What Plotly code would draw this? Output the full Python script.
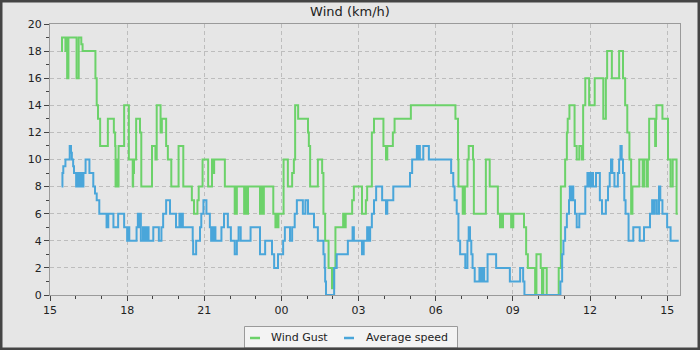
import pandas as pd
import plotly.graph_objects as go

# ---------------- data (minutes after 15:00 on day 1, km/h) ----------------
gust_minutes = [26, 28, 36, 37, 40, 43, 62, 67, 73, 76, 106, 109, 112, 117, 135, 149, 152,
                153, 154, 155, 156, 157, 158, 159, 160, 173, 184, 193, 194, 196, 201, 210, 213,
                238, 246, 249, 258, 261, 271, 275, 283, 300, 311, 331, 336, 344, 347, 356, 369,
                378, 381, 383, 408,
                431, 432, 433, 434, 435, 436,
                453, 454, 455, 456, 457, 458, 459, 460, 461, 462,
                490, 491, 492, 493, 494, 495, 496, 497, 498, 499,
                521, 526, 527, 528, 529, 530, 531, 532, 533, 534,
                545, 555, 565, 569, 572, 579, 602, 604, 607, 625, 635, 638, 642, 650,
                658, 659, 660, 661, 662, 663, 666, 684, 685, 686, 687, 688, 689, 690,
                705, 709, 728, 737, 740, 751, 756, 778, 784, 787, 800, 804, 842, 946, 952, 953,
                963, 964, 965, 966, 967, 968, 969, 974, 977, 987, 989, 1017, 1026, 1045,
                1050, 1051, 1052, 1053, 1054, 1055, 1056, 1057,
                1076, 1077, 1078, 1079, 1080, 1081, 1082,
                1106, 1111, 1115, 1132, 1133, 1134, 1135, 1145, 1148, 1151, 1159, 1187, 1192,
                1202, 1206, 1208, 1212, 1224, 1229, 1235, 1241, 1244, 1249, 1258, 1271, 1291,
                1297, 1300, 1311, 1328, 1337, 1342, 1347, 1352, 1356, 1359, 1375, 1383, 1386,
                1392, 1395, 1398, 1412, 1414, 1415, 1429, 1442, 1448, 1453, 1462, 1465]
gust_kmh = [18, 19, 18, 19, 16, 19, 16, 19, 18.5, 18, 16, 14, 13, 11, 13, 12, 11,
            8, 10, 8, 10, 8, 10, 8, 11, 14, 10, 8, 9, 10, 13, 12, 8,
            11, 10, 14, 12, 13, 11, 10, 8, 11, 8, 7, 6, 7, 8, 10, 8,
            10, 9, 10, 8,
            6, 8, 6, 8, 6, 8,
            6, 8, 6, 8, 6, 8, 6, 8, 6, 8,
            6, 8, 6, 8, 6, 8, 6, 8, 6, 8,
            6, 5, 6, 5, 6, 5, 6, 5, 6, 6,
            10, 8, 9, 10, 14, 13, 12, 11, 8, 10, 9, 6, 4, 2,
            0.5, 2, 0.5, 2, 0.5, 2, 5, 6, 5, 6, 5, 6, 5, 6,
            7, 8, 6, 7, 8, 12, 13, 11, 10, 11, 12, 13, 14, 13, 10, 8,
            6, 8, 6, 8, 6, 8, 8, 10, 11, 10, 6, 10, 8, 6,
            5, 6, 5, 6, 5, 6, 5, 6,
            5, 6, 5, 6, 5, 6, 6,
            5, 3, 2, 0, 2, 0, 3, 2, 0, 2, 0, 2, 8,
            10, 12, 13, 14, 11, 10, 11, 10, 14, 16, 14, 16, 13,
            16, 18, 16, 18, 16, 14, 12, 10, 6, 8, 10, 8, 10,
            8, 10, 13, 11, 13, 14, 13, 10, 8, 10, 6, 6]

avg_minutes = [27, 29, 31, 36, 46, 49, 51, 54, 56, 61, 64, 68, 72, 74, 78, 83, 92, 101, 105,
               109, 115, 132, 136, 148, 159, 173, 180, 182, 185, 202, 205, 207, 208, 212, 217,
               219, 222, 225, 228, 230, 241, 254, 260, 264, 271, 280, 294, 302, 303, 306, 310,
               333, 334, 341, 350, 353, 358, 365, 373, 376, 378, 381, 383, 386, 400, 406, 415,
               422, 431, 436, 440, 445, 468, 490, 502, 518, 523, 532, 544, 548, 560, 565, 571,
               576, 590, 596, 602, 616, 625, 638, 641, 642, 644, 663, 669, 695, 706, 709, 728,
               732, 740, 744, 747, 751, 756, 761, 775, 784, 787, 801, 840, 845, 856, 857, 859,
               863, 871, 884, 936, 941, 944, 949, 953, 957, 969, 974, 977, 980, 983, 986, 991,
               1002, 1006, 1010, 1013, 1021, 1041, 1073, 1097, 1104, 1107, 1191, 1195, 1198,
               1202, 1206, 1211, 1213, 1215, 1218, 1221, 1225, 1229, 1235, 1249, 1254, 1257,
               1259, 1261, 1264, 1267, 1274, 1283, 1288, 1297, 1302, 1306, 1309, 1312, 1317,
               1325, 1328, 1331, 1334, 1337, 1340, 1343, 1350, 1361, 1376, 1386, 1400, 1405,
               1409, 1411, 1416, 1421, 1424, 1429, 1440, 1448, 1467]
avg_kmh = [8, 9, 9.5, 10, 11, 10.5, 10, 9.5, 9, 8, 9, 8, 9, 8, 9, 10, 9, 8, 7.5,
           7, 6, 5, 6, 5, 6, 5, 4, 5, 4, 5, 6, 5, 6, 4, 5,
           4, 5, 4, 5, 4, 5, 4, 5, 6, 7, 6, 5, 6, 5, 6, 5,
           4, 3, 4, 5, 6, 7, 6, 5, 4, 5, 4, 5, 4, 5, 6, 5,
           4, 3, 4, 5, 4, 5, 3, 4, 3, 2, 3, 4, 5, 4, 5, 6,
           7, 6, 7, 6, 5, 4, 3, 2, 1, 0, 2, 3, 4, 5, 4, 3,
           4, 5, 4, 5, 6, 7, 8, 7, 6, 7, 8, 9, 10, 11, 10, 11,
           10, 11, 10, 9, 8, 7, 6, 4, 3, 2, 4, 5, 4, 3, 2, 1,
           2, 1, 2, 1, 3, 2, 1, 2, 1, 0, 1, 3, 4,
           5, 6, 7, 8, 7, 8, 7, 6, 5, 6, 8, 9, 8,
           9, 8, 9, 8, 9, 7, 6, 7, 8, 9, 10, 9, 8,
           9, 10, 11, 10, 9, 7, 6, 4, 5, 4, 5, 6, 7,
           6, 7, 6, 8, 7, 6, 5, 4, 4]

x_tick_hours = ["15", "18", "21", "00", "03", "06", "09", "12", "15"]
series_names = ["Wind Gust", "Average speed"]

# ---------------- build ----------------
start = pd.Timestamp("2024-05-14 15:00")
gust_t = [start + pd.Timedelta(minutes=m) for m in gust_minutes]
avg_t = [start + pd.Timedelta(minutes=m) for m in avg_minutes]
x_end = start + pd.Timedelta(minutes=1470)
tick_vals = [start + pd.Timedelta(hours=3 * i) for i in range(len(x_tick_hours))]

GREEN = "#6cd26a"
BLUE = "#4aa6da"
FONT = "DejaVu Sans"
colors = [GREEN, BLUE]

fig = go.Figure()
fig.add_trace(go.Scatter(x=gust_t, y=gust_kmh, mode="lines", line=dict(color=GREEN, width=2, shape="hv"),
                         name=series_names[0], showlegend=False, hoverinfo="skip"))
fig.add_trace(go.Scatter(x=avg_t, y=avg_kmh, mode="lines", line=dict(color=BLUE, width=2, shape="hv"),
                         name=series_names[1], showlegend=False, hoverinfo="skip"))

W, H, L, R, T, B = 700, 350, 50, 20, 24, 55
pw, ph = W - L - R, H - T - B


def px(x):  # figure pixel -> paper x
    return (x - L) / pw


def py(y):  # figure pixel -> paper y
    return (H - B - y) / ph


shapes = [
    # outer dark frame
    dict(type="rect", xref="paper", yref="paper", x0=px(0), x1=px(W), y0=py(H), y1=py(0),
         line=dict(color="#444444", width=5), fillcolor="rgba(0,0,0,0)", layer="above"),
    # legend box
    dict(type="rect", xref="paper", yref="paper", x0=px(244.5), x1=px(457.5), y0=py(348), y1=py(326.5),
         line=dict(color="#9a9a9a", width=1), fillcolor="#f3f3f3", layer="below"),
]
annotations = []
legend_sym_x = [250, 344]
legend_txt_x = [269, 364]
for name, col, sx, tx in zip(series_names, colors, legend_sym_x, legend_txt_x):
    shapes.append(dict(type="line", xref="paper", yref="paper", x0=px(sx), x1=px(sx + 10),
                       y0=py(338), y1=py(338), line=dict(color=col, width=2.5)))
    annotations.append(dict(text=name, xref="paper", yref="paper", x=px(tx), y=py(337),
                            xanchor="left", yanchor="middle", showarrow=False,
                            font=dict(family=FONT, size=11, color="#222222")))

fig.update_layout(
    width=W, height=H,
    margin=dict(l=L, r=R, t=T, b=B, pad=0, autoexpand=False),
    paper_bgcolor="#e6e6e6", plot_bgcolor="#e6e6e6",
    font=dict(family=FONT, size=11, color="#222222"),
    title=dict(text="Wind (km/h)", x=0.5, xref="container", xanchor="center",
               y=1 - 11.5 / H, yref="container", yanchor="middle",
               font=dict(family=FONT, size=13, color="#222222")),
    showlegend=False,
    shapes=shapes,
    annotations=annotations,
)

fig.update_xaxes(
    type="date", range=[start, x_end], automargin=False,
    tickmode="array", tickvals=tick_vals, ticktext=x_tick_hours,
    ticks="outside", ticklen=5, tickcolor="#444444", tickwidth=1,
    showline=True, linecolor="#9a9a9a", linewidth=1, mirror=True,
    showgrid=True, gridcolor="#bdbdbd", gridwidth=1, griddash="4px,3px",
    zeroline=False,
    minor=dict(ticks="outside", ticklen=3, tickcolor="#444444", dtick=3600000,
               tick0=start, showgrid=False),
    tickfont=dict(family=FONT, size=11, color="#222222"),
)
fig.update_yaxes(
    range=[0, 20], dtick=2, tick0=0, automargin=False,
    ticks="outside", ticklen=5, tickcolor="#444444", tickwidth=1,
    showline=True, linecolor="#9a9a9a", linewidth=1, mirror=True,
    showgrid=True, gridcolor="#bdbdbd", gridwidth=1, griddash="4px,3px",
    zeroline=False,
    minor=dict(ticks="outside", ticklen=3, tickcolor="#444444", dtick=1, showgrid=False),
    tickfont=dict(family=FONT, size=11, color="#222222"),
)

fig.write_html("out.html")
